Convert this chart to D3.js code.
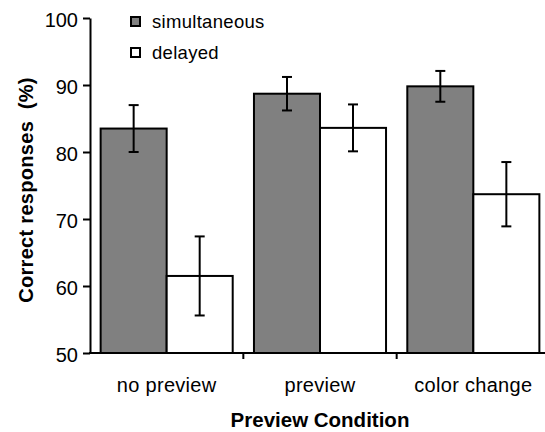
<!DOCTYPE html>
<html>
<head>
<meta charset="utf-8">
<script src="https://cdn.jsdelivr.net/npm/d3@7"></script>
<style>
  body { margin: 0; background: #fff; }
  svg { font-family: "Liberation Sans", Arial, sans-serif; }
</style>
</head>
<body>
<svg id="chart" width="545" height="432"></svg>
<script>
// values
var conditions = ['no preview', 'preview', 'color change'];
var seriesNames = ['simultaneous', 'delayed'];
var simultaneous = [83.5, 88.7, 89.8];
var simultaneousErr = [3.5, 2.5, 2.3];
var delayed = [61.5, 83.6, 73.7];
var delayedErr = [5.9, 3.5, 4.8];
var yTicks = [50, 60, 70, 80, 90, 100];
var colors = ['#808080', '#ffffff'];

var svg = d3.select('#chart');
var M = { left: 90, top: 18, bottom: 353, right: 550 };

var x = d3.scaleBand()
  .domain(conditions)
  .range([M.left, M.right])
  .paddingInner(0)
  .paddingOuter(0);
var xs = d3.scaleBand()
  .domain(seriesNames)
  .range([0, x.bandwidth()])
  .paddingInner(0)
  .paddingOuter(0.161);
var y = d3.scaleLinear()
  .domain([50, 100])
  .range([M.bottom, M.top]);

var rows = [];
conditions.forEach(function(c, i) {
  rows.push({ cond: c, s: 'simultaneous', v: simultaneous[i], e: simultaneousErr[i], col: colors[0] });
  rows.push({ cond: c, s: 'delayed', v: delayed[i], e: delayedErr[i], col: colors[1] });
});

// bars
svg.append('g').selectAll('rect')
  .data(rows)
  .enter()
  .append('rect')
  .attr('x', function(d) { return x(d.cond) + xs(d.s); })
  .attr('y', function(d) { return y(d.v); })
  .attr('width', xs.bandwidth())
  .attr('height', function(d) { return y(50) - y(d.v); })
  .style('fill', function(d) { return d.col; })
  .style('stroke', '#000')
  .style('stroke-width', 2);

// error bars
var eb = svg.append('g').selectAll('g')
  .data(rows)
  .enter()
  .append('g')
  .attr('transform', function(d) {
    return 'translate(' + (x(d.cond) + xs(d.s) + xs.bandwidth() / 2) + ',0)';
  })
  .style('stroke', '#000')
  .style('stroke-width', 2);
eb.append('line')
  .attr('y1', function(d) { return y(d.v + d.e); })
  .attr('y2', function(d) { return y(d.v - d.e); });
eb.append('line')
  .attr('x1', -5).attr('x2', 5)
  .attr('y1', function(d) { return y(d.v + d.e); })
  .attr('y2', function(d) { return y(d.v + d.e); });
eb.append('line')
  .attr('x1', -5).attr('x2', 5)
  .attr('y1', function(d) { return y(d.v - d.e); })
  .attr('y2', function(d) { return y(d.v - d.e); });

// y axis
var yAxis = svg.append('g')
  .attr('transform', 'translate(' + M.left + ',0)')
  .call(d3.axisLeft(y).tickValues(yTicks).tickSize(7).tickPadding(5).tickSizeOuter(0));
yAxis.select('.domain').style('stroke-width', 2);
yAxis.selectAll('.tick line').style('stroke-width', 2);
yAxis.selectAll('.tick text')
  .style('font-size', '20px')
  .style('fill', '#000')
  .attr('dy', '0.42em');

// x axis: ticks between the categories
var xAxis = svg.append('g')
  .attr('transform', 'translate(0,' + M.bottom + ')');
xAxis.append('line')
  .attr('x1', M.left - 1).attr('x2', M.right)
  .style('stroke', '#000').style('stroke-width', 2);
xAxis.selectAll('.sep')
  .data(conditions.slice(1))
  .enter()
  .append('line')
  .attr('x1', function(d) { return x(d); })
  .attr('x2', function(d) { return x(d); })
  .attr('y1', 0).attr('y2', 6)
  .style('stroke', '#000').style('stroke-width', 2);
xAxis.selectAll('text')
  .data(conditions)
  .enter()
  .append('text')
  .attr('x', function(d) { return x(d) + x.bandwidth() / 2; })
  .attr('y', 39)
  .attr('text-anchor', 'middle')
  .style('font-size', '20px')
  .style('letter-spacing', '0.3px')
  .text(function(d) { return d; });

// axis titles
svg.append('text')
  .attr('x', 320)
  .attr('y', 427)
  .attr('text-anchor', 'middle')
  .style('font-size', '20.5px')
  .style('font-weight', 'bold')
  .text('Preview Condition');
svg.append('text')
  .attr('transform', 'translate(33,190) rotate(-90)')
  .attr('text-anchor', 'middle')
  .style('font-size', '20px')
  .style('font-weight', 'bold')
  .style('letter-spacing', '0.3px')
  .text('Correct responses\u00a0\u00a0(%)');

// legend
var lg = svg.append('g').selectAll('g')
  .data(seriesNames)
  .enter()
  .append('g')
  .attr('transform', function(d, i) { return 'translate(131,' + (17 + i * 31) + ')'; });
lg.append('rect')
  .attr('width', 9).attr('height', 9)
  .style('fill', function(d, i) { return colors[i]; })
  .style('stroke', '#000').style('stroke-width', 2);
lg.append('text')
  .attr('x', 21).attr('y', 11)
  .style('font-size', '18.5px')
  .style('letter-spacing', '0.3px')
  .text(function(d) { return d; });
</script>
</body>
</html>
